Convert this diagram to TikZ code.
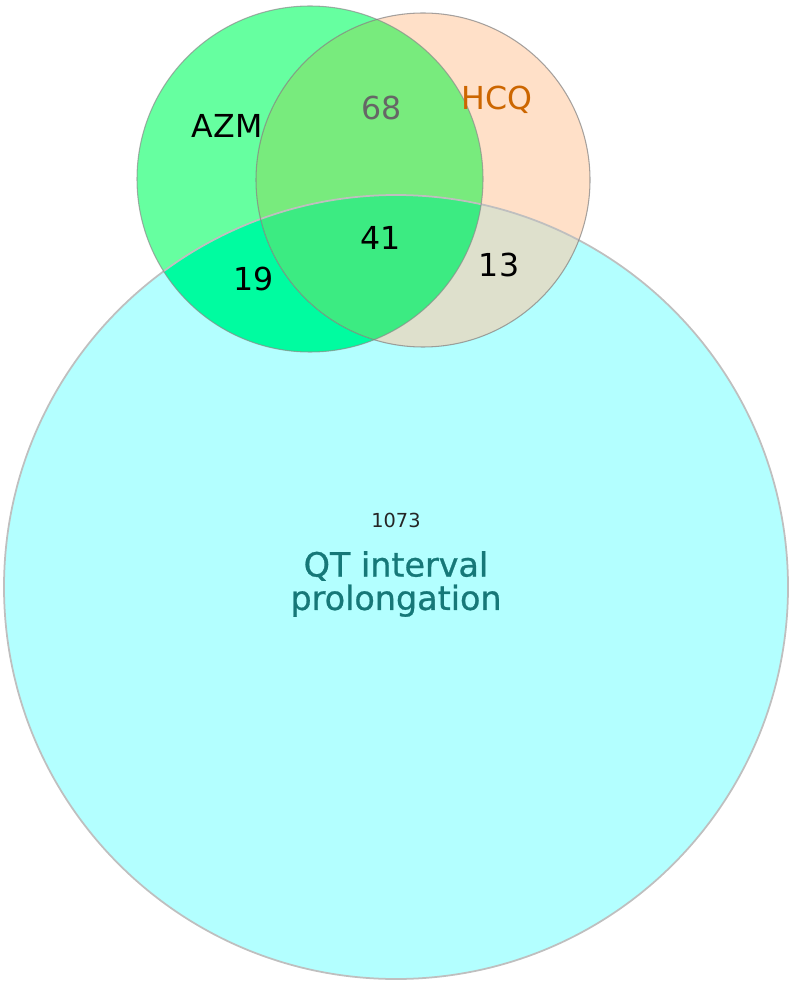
\documentclass[tikz,border=0pt]{standalone}
\usepackage{fontspec}
\setmainfont{DejaVu Sans}
\newfontfamily\qtfont[FakeBold=0.8]{DejaVu Sans}
\definecolor{qtonly}{RGB}{179,255,255}
\definecolor{azmonly}{RGB}{102,255,160}
\definecolor{hcqonly}{RGB}{255,224,200}
\definecolor{azmhcq}{RGB}{120,235,125}
\definecolor{azmqt}{RGB}{0,252,160}
\definecolor{hcqqt}{RGB}{222,224,204}
\definecolor{allthree}{RGB}{60,235,130}
\definecolor{hcqtext}{RGB}{204,102,0}
\definecolor{qttext}{RGB}{22,120,120}

\begin{document}
\begin{tikzpicture}[x=0.02cm, y=-0.02cm,
  setname/.style={font=\fontsize{18}{20}\selectfont},
  count/.style={font=\fontsize{18}{20}\selectfont, text=black},
  rim/.style={line width=0.6pt},
]
\useasboundingbox (0,0) rectangle (792,986);
\def\azm{(310,179) circle (173)}
\def\hcq{(423,180) circle (167)}
\def\qt{(396,587) circle (392)}

% single sets
\fill[qtonly] \qt;
\fill[azmonly] \azm;
\fill[hcqonly] \hcq;

% overlaps
\begin{scope}
  \clip \azm;
  \fill[azmhcq] \hcq;
  \fill[azmqt] \qt;
\end{scope}
\begin{scope}
  \clip \hcq;
  \fill[hcqqt] \qt;
\end{scope}
\begin{scope}
  \clip \azm;
  \clip \hcq;
  \fill[allthree] \qt;
\end{scope}

% rims
\draw[rim, black!25, line width=1pt] \qt;
\draw[rim, black!45, opacity=0.7] \azm;
\draw[rim, black!50, opacity=0.7] \hcq;

% labels
\node[setname] (azmname) at (227,126) {AZM};
\node[setname, text=hcqtext] (hcqname) at (497,100) {HCQ};
\node[count, text=black!60] (n68) at (382,108) {68};
\node[count] (n41) at (381,238) {41};
\node[count] (n19) at (254,279) {19};
\node[count] (n13) at (499,265) {13};
\node[font=\fontsize{11}{13}\selectfont, text=black!85] (n1073) at (396,520) {1073};
\node[font=\qtfont\fontsize{19}{19}\selectfont, text=qttext, align=center] (qtname) at (396,584) {QT interval\\prolongation};
\end{tikzpicture}
\end{document}
